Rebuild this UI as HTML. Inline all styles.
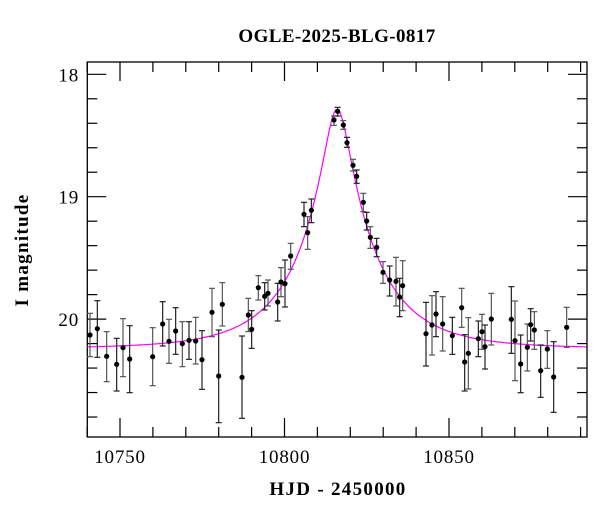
<!DOCTYPE html>
<html><head><meta charset="utf-8"><style>
body{margin:0;background:#fff;}
svg text{font-family:"Liberation Serif",serif;fill:#000;}
</style></head><body>
<svg id="s" width="600" height="512" xmlns="http://www.w3.org/2000/svg">
<text x="337" y="42" font-size="19" font-weight="bold" letter-spacing="0.4" text-anchor="middle">OGLE-2025-BLG-0817</text>
<text x="338" y="495" font-size="19" font-weight="bold" letter-spacing="1.3" text-anchor="middle">HJD - 2450000</text>
<text transform="translate(28,250) rotate(-90)" font-size="19" font-weight="bold" letter-spacing="1.3" text-anchor="middle">I magnitude</text>
<g id="g"></g>
</svg>
<script>
const L=87.3,R=587,T=62,B=437;
const X=t=>120+(t-10750)*3.29, Y=m=>74.3+(m-18)*122.4;
let h='';
h+=`<rect x="${L}" y="${T}" width="${R-L}" height="${B-T}" fill="none" stroke="#000" stroke-width="1.3"/>`;
for(let t=10740;t<=10890;t+=10){const x=X(t),maj=t%50==0,l=maj?19:10;
h+=`<line x1="${x}" y1="${T}" x2="${x}" y2="${T+l}" stroke="#000" stroke-width="1.2"/><line x1="${x}" y1="${B}" x2="${x}" y2="${B-l}" stroke="#000" stroke-width="1.2"/>`;
if(maj)h+=`<text x="${x}" y="463" font-size="19" letter-spacing="0.8" text-anchor="middle">${t}</text>`;}
for(let i=0;i<=15;i++){const m=17.8+i*0.2,y=Y(m);if(y<T+1||y>B-1)continue;const maj=Math.abs(m-Math.round(m))<1e-6,l=maj?19:10;
h+=`<line x1="${L}" y1="${y}" x2="${L+l}" y2="${y}" stroke="#000" stroke-width="1.2"/><line x1="${R}" y1="${y}" x2="${R-l}" y2="${y}" stroke="#000" stroke-width="1.2"/>`;
if(maj)h+=`<text x="79" y="${y+7}" font-size="19" letter-spacing="0.8" text-anchor="end">${Math.round(m)}</text>`;}
const t0=10816,tE=23,u0=0.167,base=20.24;
let p='';for(let x=L;x<=R;x+=1){const t=10750+(x-120)/3.29,dt=(t-t0)/tE,u=Math.sqrt(u0*u0+dt*dt),A=(u*u+2)/(u*Math.sqrt(u*u+4));p+=(p?'L':'M')+x.toFixed(1)+','+Y(base-2.5*Math.log10(A)).toFixed(1);}
h+=`<path d="${p}" fill="none" stroke="#f0f" stroke-width="1.2"/>`;
const d1=[[30,885,820,950],[52,866,782,952],[80,949,875,1025],[110,973,895,1053],[129,923,836,1010],[149,957,857,1058],[218,950,863,1037],[248,852,785,918],[267,904,838,970],[287,873,803,943],[307,911,845,980],[327,901,845,958],[347,903,832,972],[366,959,872,1048],[396,817,745,890],[416,1008,870,1148],[427,793,728,858],[486,1012,888,1135],[505,825,775,875],[515,868,812,925],[535,743,707,780],[554,769,728,810],[564,760,720,798],[593,786,730,843],[603,726,683,770],[615,731,660,801],[632,648,610,688],[672,523,487,560],[683,578,530,628],[694,511,477,548],[762,240,228,256],[773,214,202,228]];
const d2=[[40,255,242,268],[51,308,292,322],[69,376,358,393],[80,409,390,430],[100,487,460,515],[110,543,517,570],[121,592,560,625],[140,622,595,650],[159,697,665,730],[179,720,678,768],[198,724,652,798],[209,771,715,830],[218,737,662,812],[288,881,787,978],[306,855,767,945],[318,822,755,890],[338,852,770,933],[367,887,832,943],[395,803,745,862],[404,966,884,1053],[415,940,833,1047],[445,896,843,950],[456,875,823,928],[465,920,855,987],[484,837,760,915],[544,838,740,940],[555,902,783,1022],[572,972,885,1058],[592,922,852,993],[602,854,806,903],[613,870,815,928],[632,992,915,1072],[652,927,872,985],[671,1011,905,1117],[710,862,802,922]];
const pts=d1.map(a=>[80+a[0]/3,40+a[1]/3,40+a[2]/3,40+a[3]/3]).concat(d2.map(a=>[330+a[0]/3,40+a[1]/3,40+a[2]/3,40+a[3]/3]));
pts.forEach((q,i)=>{const c=i%2?'#222':'#555';const[x,y,a,b]=q;
h+=`<line x1="${x}" y1="${a}" x2="${x}" y2="${b}" stroke="${c}" stroke-width="1.2"/><line x1="${x-3}" y1="${a}" x2="${x+3}" y2="${a}" stroke="${c}" stroke-width="1.2"/><line x1="${x-3}" y1="${b}" x2="${x+3}" y2="${b}" stroke="${c}" stroke-width="1.2"/><circle cx="${x}" cy="${y}" r="2.6" fill="#000"/>`;});
document.getElementById('g').innerHTML=h;
</script>
</body></html>
